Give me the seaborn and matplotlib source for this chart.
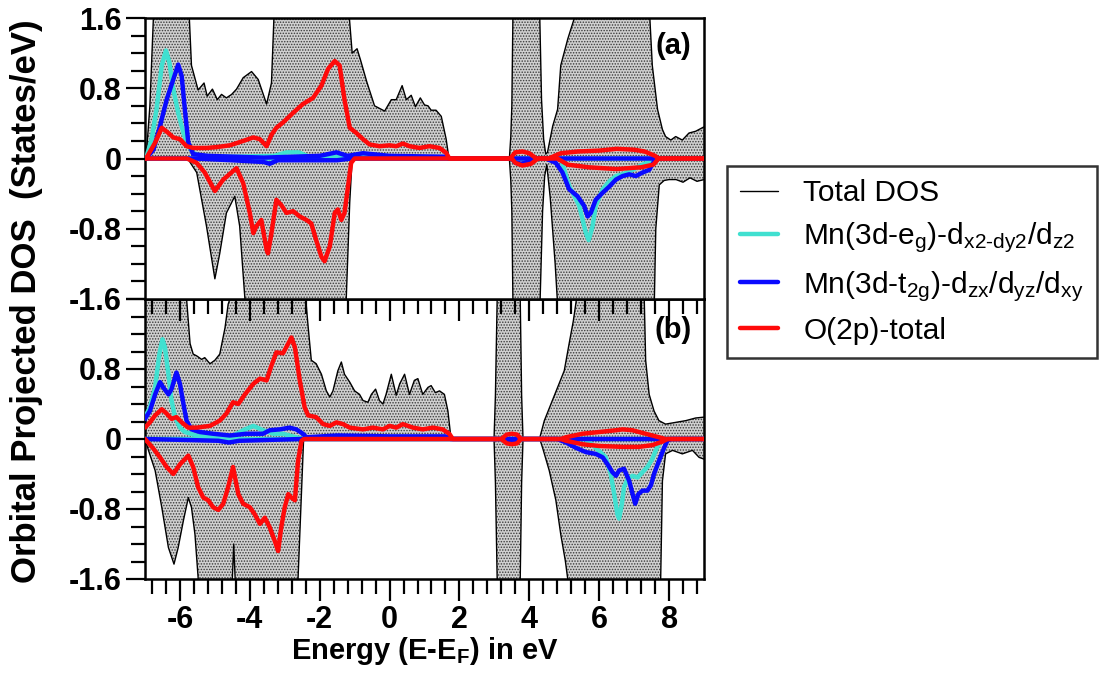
import matplotlib
matplotlib.use("Agg")
import matplotlib.pyplot as plt
import pandas as pd
import seaborn as sns
from matplotlib.lines import Line2D
from matplotlib.ticker import MultipleLocator, FuncFormatter

sns.set_theme(style="ticks")
plt.rcParams["font.family"] = ["Liberation Sans", "DejaVu Sans"]
plt.rcParams["mathtext.fontset"] = "custom"
plt.rcParams["mathtext.rm"] = "Liberation Sans"
plt.rcParams["mathtext.it"] = "Liberation Sans:italic"
plt.rcParams["mathtext.bf"] = "Liberation Sans:bold"
plt.rcParams["mathtext.default"] = "rm"
plt.rcParams["axes.unicode_minus"] = False
plt.rcParams["hatch.linewidth"] = 0.7
for key in ("text.color", "axes.labelcolor", "xtick.color", "ytick.color", "axes.edgecolor"):
    plt.rcParams[key] = "black"

# ---- (energy in eV, DOS in states/eV); spin-down channel plotted as negative ----
# panel (a)
TOTAL_UP_A = [(-7.0, 0.0), (-6.97, 0.0), (-6.86, 0.6), (-6.76, 1.6), (-6.67, 2.4), (-5.81, 2.4),
              (-5.73, 1.59), (-5.67, 1.06), (-5.48, 0.78), (-5.31, 0.86), (-5.22, 0.71), (-5.07, 0.79),
              (-4.93, 0.67), (-4.81, 0.73), (-4.67, 0.69), (-4.52, 0.73), (-4.38, 0.79), (-4.19, 0.92),
              (-3.95, 0.99), (-3.76, 0.90), (-3.52, 0.62), (-3.38, 0.86), (-3.31, 1.6), (-3.24, 2.4),
              (-1.21, 2.4), (-1.15, 1.6), (-1.07, 1.2), (-0.93, 1.25), (-0.83, 1.12), (-0.65, 0.87),
              (-0.43, 0.60), (-0.14, 0.54), (0.05, 0.67), (0.19, 0.67), (0.36, 0.83), (0.48, 0.67),
              (0.62, 0.72), (0.74, 0.59), (0.88, 0.69), (1.0, 0.61), (1.1, 0.60), (1.19, 0.55),
              (1.33, 0.55), (1.48, 0.48), (1.62, 0.22), (1.70, 0.0), (3.43, 0.0), (3.47, 0.25),
              (3.50, 0.6), (3.53, 1.6), (3.56, 2.4), (4.27, 2.4), (4.30, 1.6), (4.35, 0.67),
              (4.41, 0.22), (4.47, 0.05), (4.52, 0.07), (4.67, 0.37), (4.81, 0.56), (4.90, 1.06),
              (5.10, 1.36), (5.29, 1.6), (5.35, 2.4), (7.40, 2.4), (7.45, 1.6), (7.52, 1.06),
              (7.67, 0.56), (7.81, 0.33), (7.90, 0.25), (8.05, 0.21), (8.19, 0.25), (8.38, 0.21),
              (8.57, 0.29), (8.76, 0.31), (8.95, 0.35), (9.0, 0.36)]
TOTAL_DN_A = [(-7.0, 0.0), (-5.78, 0.0), (-5.52, -0.16), (-5.24, -0.77), (-5.0, -1.37), (-4.86, -1.08),
              (-4.67, -0.62), (-4.43, -0.43), (-4.29, -0.77), (-4.14, -1.6), (-4.05, -2.4), (-1.30, -2.4),
              (-1.24, -1.6), (-1.14, -0.5), (-1.07, 0.0), (3.43, 0.0), (3.47, -0.25), (3.50, -0.6),
              (3.53, -1.6), (3.56, -2.4), (4.27, -2.4), (4.31, -1.6), (4.38, -0.6), (4.44, -0.2),
              (4.50, -0.07), (4.60, -0.45), (4.74, -1.2), (4.80, -1.6), (4.85, -2.4), (7.52, -2.4),
              (7.58, -1.6), (7.62, -0.8), (7.72, -0.30), (7.86, -0.25), (8.0, -0.24), (8.2, -0.24),
              (8.4, -0.27), (8.6, -0.22), (8.8, -0.26), (9.0, -0.24)]
EG_UP_A = [(-7.0, 0.0), (-6.97, 0.0), (-6.81, 0.22), (-6.67, 0.56), (-6.52, 1.06), (-6.40, 1.23),
           (-6.30, 1.09), (-6.21, 0.83), (-6.05, 0.52), (-5.90, 0.29), (-5.76, 0.14), (-5.62, 0.065),
           (-5.43, 0.03), (-4.5, 0.02), (-3.3, 0.03), (-2.95, 0.07), (-2.6, 0.07), (-2.3, 0.02),
           (1.6, 0.01), (1.7, 0.0), (9.0, 0.0)]
EG_DN_A = [(-7.0, 0.0), (4.90, 0.0), (5.14, -0.31), (5.43, -0.54), (5.62, -0.85), (5.70, -0.93),
           (5.81, -0.77), (5.90, -0.54), (6.10, -0.35), (6.29, -0.26), (6.48, -0.20), (6.67, -0.18),
           (6.95, -0.13), (7.24, -0.07), (7.43, -0.04), (7.55, 0.0), (9.0, 0.0)]
T2G_UP_A = [(-7.0, 0.0), (-6.97, 0.0), (-6.76, 0.10), (-6.57, 0.37), (-6.38, 0.67), (-6.19, 0.90),
            (-6.05, 1.07), (-5.95, 0.94), (-5.86, 0.56), (-5.76, 0.18), (-5.62, 0.05), (-5.2, 0.03),
            (-3.6, 0.01), (-2.0, 0.03), (-1.52, 0.07), (-1.2, 0.03), (-0.76, 0.06), (0.0, 0.03),
            (1.6, 0.02), (1.7, 0.0), (9.0, 0.0)]
T2G_DN_A = [(-7.0, 0.0), (-5.6, 0.0), (-4.5, -0.02), (-3.6, -0.04), (-3.43, -0.06), (-3.2, -0.02),
            (-1.5, -0.02), (-1.1, 0.0), (3.50, 0.0), (3.6, -0.05), (3.8, -0.06), (4.0, -0.03),
            (4.2, 0.0), (4.48, 0.0), (4.76, -0.05), (4.95, -0.16), (5.14, -0.35), (5.38, -0.43),
            (5.57, -0.54), (5.67, -0.66), (5.76, -0.62), (5.90, -0.47), (6.10, -0.39), (6.29, -0.32),
            (6.48, -0.24), (6.67, -0.20), (6.86, -0.18), (7.05, -0.20), (7.24, -0.16), (7.43, -0.13),
            (7.62, 0.0), (9.0, 0.0)]
O2P_UP_A = [(-7.0, 0.0), (-6.97, 0.0), (-6.71, 0.18), (-6.52, 0.35), (-6.33, 0.29), (-6.19, 0.24),
            (-6.0, 0.22), (-5.81, 0.14), (-5.62, 0.12), (-5.24, 0.12), (-4.95, 0.13), (-4.57, 0.15),
            (-4.19, 0.20), (-3.90, 0.24), (-3.71, 0.22), (-3.52, 0.14), (-3.38, 0.27), (-3.24, 0.35),
            (-3.05, 0.41), (-2.76, 0.52), (-2.48, 0.62), (-2.19, 0.69), (-1.95, 0.83), (-1.76, 1.02),
            (-1.57, 1.11), (-1.43, 1.06), (-1.29, 0.67), (-1.14, 0.35), (-0.95, 0.29), (-0.76, 0.22),
            (-0.57, 0.16), (-0.29, 0.14), (0.0, 0.15), (0.19, 0.14), (0.38, 0.17), (0.57, 0.14),
            (0.86, 0.12), (1.14, 0.14), (1.43, 0.12), (1.62, 0.065), (1.71, 0.0), (3.45, 0.0),
            (3.6, 0.07), (3.8, 0.08), (4.0, 0.06), (4.2, 0.0), (4.55, 0.0), (4.9, 0.06), (5.4, 0.08),
            (6.0, 0.09), (6.5, 0.11), (7.0, 0.10), (7.3, 0.08), (7.6, 0.03), (7.7, 0.0), (9.0, 0.0)]
O2P_DN_A = [(-7.0, 0.0), (-5.8, 0.0), (-5.52, -0.05), (-5.29, -0.16), (-5.0, -0.37), (-4.76, -0.24),
            (-4.38, -0.11), (-4.19, -0.28), (-4.0, -0.62), (-3.90, -0.85), (-3.81, -0.77), (-3.67, -0.70),
            (-3.52, -1.04), (-3.48, -1.08), (-3.38, -0.85), (-3.24, -0.47), (-3.10, -0.53), (-2.95, -0.62),
            (-2.76, -0.60), (-2.57, -0.66), (-2.38, -0.70), (-2.24, -0.74), (-2.10, -0.93), (-1.95, -1.12),
            (-1.86, -1.17), (-1.71, -1.0), (-1.57, -0.62), (-1.48, -0.58), (-1.38, -0.70), (-1.29, -0.62),
            (-1.19, -0.32), (-1.10, -0.05), (-1.0, 0.0), (3.5, 0.0), (3.6, -0.05), (3.8, -0.08),
            (4.05, -0.06), (4.25, 0.0), (4.8, 0.0), (5.1, -0.07), (5.7, -0.10), (6.5, -0.12),
            (7.2, -0.10), (7.55, -0.07), (7.7, 0.0), (9.0, 0.0)]

# panel (b)
TOTAL_UP_B = [(-7.0, 2.4), (-5.85, 2.4), (-5.81, 1.6), (-5.71, 1.09), (-5.62, 0.97), (-5.52, 0.95),
              (-5.38, 0.91), (-5.29, 0.93), (-5.14, 0.86), (-5.0, 0.90), (-4.86, 0.97), (-4.71, 1.27),
              (-4.62, 1.54), (-4.57, 1.6), (-4.52, 2.4), (-2.45, 2.4), (-2.40, 1.6), (-2.33, 1.28),
              (-2.24, 0.90), (-2.10, 0.86), (-1.95, 0.74), (-1.81, 0.55), (-1.71, 0.48), (-1.62, 0.55),
              (-1.48, 0.78), (-1.38, 0.88), (-1.29, 0.74), (-1.14, 0.65), (-1.0, 0.55), (-0.86, 0.51),
              (-0.76, 0.44), (-0.62, 0.42), (-0.52, 0.51), (-0.40, 0.57), (-0.29, 0.44), (-0.19, 0.40),
              (-0.10, 0.51), (0.05, 0.74), (0.19, 0.50), (0.29, 0.63), (0.43, 0.74), (0.57, 0.51),
              (0.71, 0.67), (0.81, 0.69), (0.95, 0.51), (1.10, 0.59), (1.19, 0.61), (1.31, 0.53),
              (1.43, 0.55), (1.57, 0.51), (1.67, 0.32), (1.76, 0.0), (2.99, 0.0), (3.03, 0.5),
              (3.08, 1.6), (3.12, 2.4), (3.70, 2.4), (3.74, 1.6), (3.78, 0.5), (3.82, 0.0), (4.29, 0.0),
              (4.43, 0.21), (4.62, 0.40), (4.81, 0.59), (5.0, 0.78), (5.14, 1.09), (5.26, 1.35),
              (5.35, 1.6), (5.40, 2.4), (7.25, 2.4), (7.29, 1.6), (7.33, 0.90), (7.43, 0.51),
              (7.57, 0.32), (7.71, 0.21), (7.90, 0.17), (8.19, 0.19), (8.48, 0.21), (8.76, 0.24),
              (9.0, 0.25)]
TOTAL_DN_B = [(-7.0, 0.0), (-6.90, -0.13), (-6.71, -0.36), (-6.52, -0.78), (-6.33, -1.24), (-6.17, -1.43),
              (-6.05, -1.24), (-5.90, -0.93), (-5.76, -0.67), (-5.67, -0.78), (-5.57, -1.09), (-5.48, -1.58),
              (-5.42, -2.4), (-4.56, -2.4), (-4.50, -1.6), (-4.46, -1.2), (-4.42, -1.6), (-4.36, -2.4),
              (-2.70, -2.4), (-2.62, -1.6), (-2.56, -1.0), (-2.50, -0.4), (-2.46, 0.0), (2.99, 0.0),
              (3.03, -0.5), (3.08, -1.6), (3.12, -2.4), (3.70, -2.4), (3.74, -1.6), (3.78, -0.5),
              (3.82, 0.0), (4.30, 0.0), (4.38, -0.10), (4.57, -0.36), (4.76, -0.70), (4.90, -1.09),
              (5.03, -1.39), (5.10, -1.6), (5.15, -2.4), (7.70, -2.4), (7.76, -1.6), (7.81, -0.48),
              (7.90, -0.17), (8.10, -0.13), (8.38, -0.17), (8.67, -0.13), (8.86, -0.21), (9.0, -0.23)]
EG_UP_B = [(-7.0, 0.25), (-6.86, 0.36), (-6.71, 0.59), (-6.59, 0.97), (-6.50, 1.14), (-6.43, 1.05),
           (-6.33, 0.74), (-6.24, 0.44), (-6.14, 0.25), (-6.0, 0.13), (-5.86, 0.08), (-5.52, 0.04),
           (-5.05, 0.03), (-4.57, 0.02), (-4.19, 0.10), (-3.90, 0.15), (-3.62, 0.10), (-3.33, 0.06),
           (-3.05, 0.06), (-2.67, 0.02), (-2.48, 0.0), (9.0, 0.0)]
EG_DN_B = [(-7.0, 0.0), (5.6, 0.0), (5.90, -0.10), (6.19, -0.21), (6.33, -0.40), (6.43, -0.63),
           (6.52, -0.86), (6.57, -0.91), (6.65, -0.74), (6.71, -0.55), (6.81, -0.46), (6.95, -0.42),
           (7.10, -0.44), (7.24, -0.38), (7.38, -0.32), (7.52, -0.23), (7.62, -0.13), (7.71, -0.06),
           (7.8, 0.0), (9.0, 0.0)]
T2G_UP_B = [(-7.0, 0.23), (-6.86, 0.32), (-6.71, 0.51), (-6.57, 0.65), (-6.48, 0.59), (-6.33, 0.51),
            (-6.24, 0.57), (-6.10, 0.76), (-6.0, 0.63), (-5.90, 0.40), (-5.81, 0.21), (-5.67, 0.11),
            (-5.43, 0.08), (-5.05, 0.06), (-4.57, 0.04), (-4.10, 0.06), (-3.62, 0.06), (-3.43, 0.10),
            (-3.14, 0.11), (-2.86, 0.13), (-2.67, 0.11), (-2.48, 0.06), (-2.38, 0.02), (-1.5, 0.04),
            (0.0, 0.03), (1.6, 0.03), (1.75, 0.0), (9.0, 0.0)]
T2G_DN_B = [(-7.0, 0.0), (-4.9, -0.02), (-4.6, -0.04), (-4.3, -0.02), (-2.5, 0.0), (3.3, 0.0),
            (3.4, -0.04), (3.55, -0.04), (3.65, 0.0), (4.8, 0.0), (5.05, -0.04), (5.33, -0.10),
            (5.62, -0.15), (5.90, -0.17), (6.10, -0.21), (6.24, -0.29), (6.38, -0.38), (6.48, -0.42),
            (6.57, -0.36), (6.71, -0.34), (6.86, -0.48), (6.97, -0.65), (7.03, -0.74), (7.12, -0.63),
            (7.24, -0.59), (7.38, -0.59), (7.48, -0.53), (7.57, -0.40), (7.71, -0.25), (7.86, -0.10),
            (7.95, -0.02), (8.05, 0.0), (9.0, 0.0)]
O2P_UP_B = [(-7.0, 0.13), (-6.86, 0.19), (-6.71, 0.27), (-6.52, 0.34), (-6.38, 0.29), (-6.24, 0.23),
            (-6.10, 0.25), (-5.95, 0.19), (-5.76, 0.13), (-5.52, 0.13), (-5.14, 0.15), (-4.86, 0.21),
            (-4.67, 0.29), (-4.48, 0.42), (-4.33, 0.40), (-4.14, 0.51), (-3.90, 0.63), (-3.71, 0.69),
            (-3.52, 0.67), (-3.38, 0.84), (-3.24, 0.99), (-3.05, 0.98), (-2.90, 1.09), (-2.81, 1.16),
            (-2.71, 1.05), (-2.57, 0.67), (-2.43, 0.36), (-2.33, 0.27), (-2.10, 0.25), (-1.90, 0.17),
            (-1.71, 0.15), (-1.52, 0.19), (-1.33, 0.17), (-1.14, 0.13), (-0.76, 0.11), (-0.48, 0.13),
            (-0.19, 0.11), (0.0, 0.15), (0.19, 0.13), (0.38, 0.17), (0.67, 0.13), (0.95, 0.11),
            (1.24, 0.13), (1.52, 0.11), (1.71, 0.06), (1.81, 0.0), (3.2, 0.0), (3.35, 0.05),
            (3.5, 0.06), (3.65, 0.05), (3.76, 0.0), (4.9, 0.0), (5.05, 0.02), (5.52, 0.06),
            (6.0, 0.08), (6.48, 0.10), (6.67, 0.11), (6.95, 0.10), (7.33, 0.06), (7.71, 0.02),
            (7.9, 0.0), (9.0, 0.0)]
O2P_DN_B = [(-7.0, 0.0), (-6.76, -0.11), (-6.57, -0.21), (-6.38, -0.32), (-6.19, -0.40), (-6.0, -0.29),
            (-5.76, -0.19), (-5.62, -0.32), (-5.48, -0.55), (-5.33, -0.67), (-5.19, -0.70), (-5.05, -0.78),
            (-4.90, -0.81), (-4.76, -0.74), (-4.62, -0.55), (-4.48, -0.32), (-4.33, -0.63), (-4.19, -0.74),
            (-4.0, -0.78), (-3.86, -0.86), (-3.71, -0.97), (-3.57, -0.90), (-3.43, -1.01), (-3.29, -1.16),
            (-3.19, -1.28), (-3.10, -1.01), (-3.0, -0.78), (-2.90, -0.63), (-2.81, -0.67), (-2.71, -0.70),
            (-2.62, -0.25), (-2.52, -0.02), (-2.45, 0.0), (3.2, 0.0), (3.35, -0.05), (3.5, -0.06),
            (3.65, -0.05), (3.76, 0.0), (4.9, 0.0), (5.05, -0.02), (5.52, -0.06), (6.0, -0.08),
            (6.67, -0.09), (7.14, -0.09), (7.52, -0.07), (7.81, -0.03), (7.95, 0.0), (9.0, 0.0)]

PANEL_LABELS = ["(a)", "(b)"]
SERIES_LABELS = ["Total DOS",
                 r"Mn(3d-e$_{g}$)-d$_{x2\text{-}dy2}$/d$_{z2}$",
                 r"Mn(3d-t$_{2g}$)-d$_{zx}$/d$_{yz}$/d$_{xy}$",
                 "O(2p)-total"]
SERIES_COLORS = ["black", "#40e0d0", "#0a0aff", "#ff0a0a"]
Y_TICKS = [-1.6, -0.8, 0.0, 0.8, 1.6]
X_TICKS = [-6, -4, -2, 0, 2, 4, 6, 8]


def frame(points):
    return pd.DataFrame(points, columns=["energy", "dos"])


fig = plt.figure(figsize=(11.03, 6.75), dpi=100, facecolor="white")
ax_b = fig.add_axes([145 / 1103, 1 - 579 / 675, 559 / 1103, 280 / 675])
ax_a = fig.add_axes([145 / 1103, 1 - 299 / 675, 559 / 1103, 281 / 675])
# the upper panel is drawn last so its outward x ticks show over the lower panel
ax_a.set_zorder(3)
ax_b.set_zorder(1)

panels = [
    (ax_a, TOTAL_UP_A, TOTAL_DN_A, [(EG_UP_A, EG_DN_A), (T2G_UP_A, T2G_DN_A), (O2P_UP_A, O2P_DN_A)]),
    (ax_b, TOTAL_UP_B, TOTAL_DN_B, [(EG_UP_B, EG_DN_B), (T2G_UP_B, T2G_DN_B), (O2P_UP_B, O2P_DN_B)]),
]

for k, (ax, tot_up, tot_dn, projected) in enumerate(panels):
    for tot in (tot_up, tot_dn):
        df = frame(tot)
        ax.fill_between(df["energy"], 0, df["dos"], facecolor="#d0d0d0", hatch="......",
                        edgecolor="#3a3a3a", linewidth=0, zorder=1)
        sns.lineplot(data=df, x="energy", y="dos", ax=ax, color="black", linewidth=1.0,
                     estimator=None, sort=False, zorder=2)
    for (up, dn), color in zip(projected, SERIES_COLORS[1:]):
        for curve in (up, dn):
            sns.lineplot(data=frame(curve), x="energy", y="dos", ax=ax, color=color,
                         linewidth=3.2, estimator=None, sort=False, zorder=3)

    ax.set_xlim(-7, 9)
    ax.set_ylim(-1.6, 1.6)
    ax.set_xlabel("")
    ax.set_ylabel("")
    ax.set_yticks(Y_TICKS)
    ax.yaxis.set_minor_locator(MultipleLocator(0.2))
    ax.set_xticks(X_TICKS)
    ax.xaxis.set_minor_locator(MultipleLocator(0.4))
    ax.yaxis.set_major_formatter(FuncFormatter(lambda v, p: "0" if abs(v) < 1e-9 else f"{v:.1f}"))
    for side in ax.spines.values():
        side.set_linewidth(1.8)
        side.set_color("black")
    ax.tick_params(axis="y", which="major", direction="out", length=14, width=1.6,
                   labelsize=22, pad=3, left=True, right=False)
    ax.tick_params(axis="y", which="minor", direction="out", length=10, width=1.6,
                   left=True, right=False)
    ax.tick_params(axis="x", which="major", direction="out", length=16, width=1.6,
                   labelsize=22, pad=3, bottom=True, top=False)
    ax.tick_params(axis="x", which="minor", direction="out", length=11, width=1.6,
                   bottom=True, top=False)
    for lab in ax.get_yticklabels() + ax.get_xticklabels():
        lab.set_fontweight("bold")
    ax.text(0.978, 0.90 if k == 0 else 0.89, PANEL_LABELS[k], transform=ax.transAxes,
            ha="right", va="center", fontsize=21, fontweight="bold")

ax_a.tick_params(axis="x", which="both", labelbottom=False)
ax_b.set_yticks(Y_TICKS)
ax_b.set_yticklabels(["-1.6", "-0.8", "0", "0.8", ""], fontweight="bold")

ax_b.set_xlabel(r"Energy (E-E$_{\mathbf{F}}$) in eV", fontsize=21, fontweight="bold", labelpad=0)
fig.text(27 / 1103, 1 - 301 / 675, "Orbital Projected DOS  (States/eV)", rotation=90,
         ha="center", va="center", fontsize=25, fontweight="bold")

handles = [Line2D([], [], color=c, linewidth=(1.0 if i == 0 else 3.2))
           for i, c in enumerate(SERIES_COLORS)]
leg = fig.legend(handles, SERIES_LABELS, loc="upper left",
                 bbox_to_anchor=(727 / 1103, 1 - 166 / 675), borderaxespad=0,
                 fontsize=21.5, frameon=True, fancybox=False, handlelength=1.25,
                 handletextpad=0.85, labelspacing=0.45, borderpad=0.45)
leg.get_frame().set_edgecolor("black")
leg.get_frame().set_linewidth(1.8)

fig.savefig("out.png", dpi=100, facecolor="white")
